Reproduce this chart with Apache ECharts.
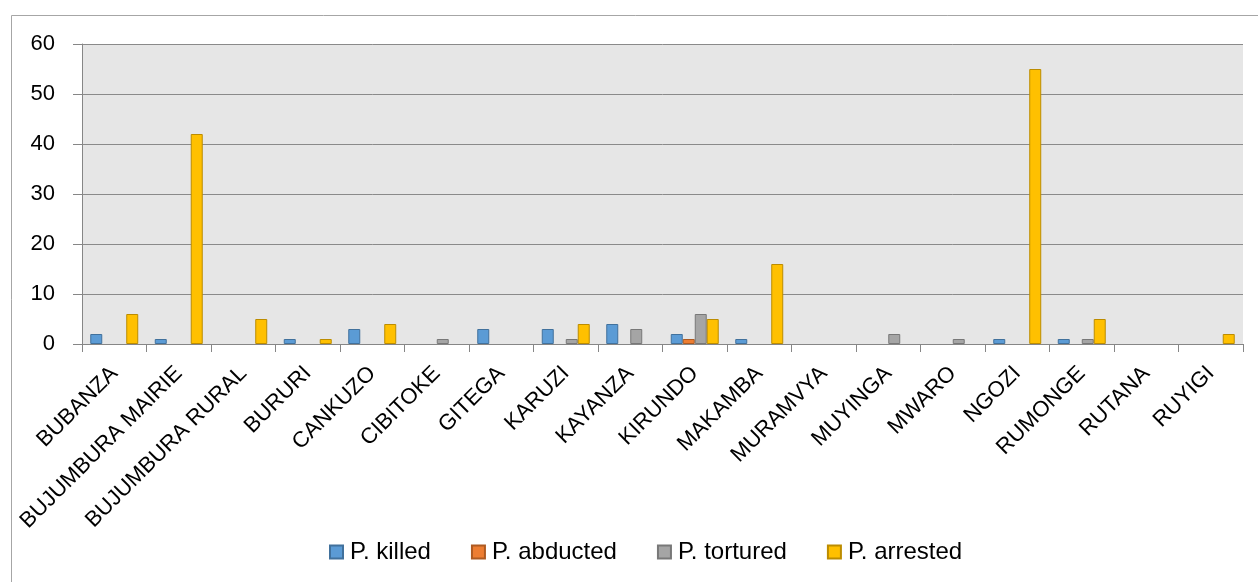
<!DOCTYPE html>
<html>
<head>
<meta charset="utf-8">
<script src="https://cdn.jsdelivr.net/npm/echarts@6/dist/echarts.min.js"></script>
<style>html,body{margin:0;padding:0;background:#fff;}#c{width:1258px;height:582px;}</style>
</head>
<body>
<div id="c"></div>
<script>
const categories = ["BUBANZA","BUJUMBURA MAIRIE","BUJUMBURA RURAL","BURURI","CANKUZO","CIBITOKE","GITEGA","KARUZI","KAYANZA","KIRUNDO","MAKAMBA","MURAMVYA","MUYINGA","MWARO","NGOZI","RUMONGE","RUTANA","RUYIGI"];
const killed    = [2,1,0,1,3,0,3,3,4,2,1,0,0,0,1,1,0,0];
const abducted  = [0,0,0,0,0,0,0,0,0,1,0,0,0,0,0,0,0,0];
const tortured  = [0,0,0,0,0,1,0,1,3,6,0,0,2,1,0,1,0,0];
const arrested  = [6,42,5,1,4,0,0,4,0,5,16,0,0,0,55,5,0,2];
const seriesNames = ["P. killed","P. abducted","P. tortured","P. arrested"];
const yTicks = [0,10,20,30,40,50,60];

const fills = ["#5B9BD5","#ED7D31","#A5A5A5","#FFC000"];
const borders = ["#41719C","#AE5A21","#787878","#BC8C00"];
const dataSets = [killed, abducted, tortured, arrested];
const font = "Liberation Sans, Arial, sans-serif";

const chart = echarts.init(document.getElementById('c'), null, {renderer:'canvas'});
chart.setOption({
  animation:false,
  backgroundColor:'#fff',
  graphic:[{type:'rect', shape:{x:11.5,y:15.5,width:1300,height:700}, style:{fill:'none', stroke:'#a6a6a6', lineWidth:1}, silent:true}],
  grid:{left:82, top:44, width:1161, height:300, show:true, backgroundColor:'#e6e6e6', borderWidth:0},
  legend:{
    top:535, left:324, itemWidth:13, itemHeight:13, itemGap:40,
    icon:'rect',
    textStyle:{fontFamily:font, fontSize:24, color:'#000', padding:[0,0,0,2]},
    data:seriesNames
  },
  xAxis:{
    type:'category', data:categories,
    axisLine:{show:true, lineStyle:{color:'#868686'}},
    axisTick:{show:true, length:8, lineStyle:{color:'#868686'}},
    axisLabel:{rotate:45, fontFamily:font, fontSize:22, color:'#000', margin:26, interval:0}
  },
  yAxis:{
    type:'value', min:yTicks[0], max:yTicks[yTicks.length-1], interval:10,
    axisLine:{show:true, lineStyle:{color:'#868686'}},
    axisTick:{show:true, length:9, lineStyle:{color:'#868686'}},
    axisLabel:{fontFamily:font, fontSize:22, color:'#000', margin:27},
    splitLine:{lineStyle:{color:'#8a8a8a'}}
  },
  series: seriesNames.map((n,i)=>({
    name:n, type:'bar', data:dataSets[i].map(v => v === 0 ? '-' : v),
    barGap:'0%', barCategoryGap:'25.6%',
    itemStyle:{color:fills[i], borderColor:borders[i], borderWidth:1}
  }))
});
</script>
</body>
</html>
